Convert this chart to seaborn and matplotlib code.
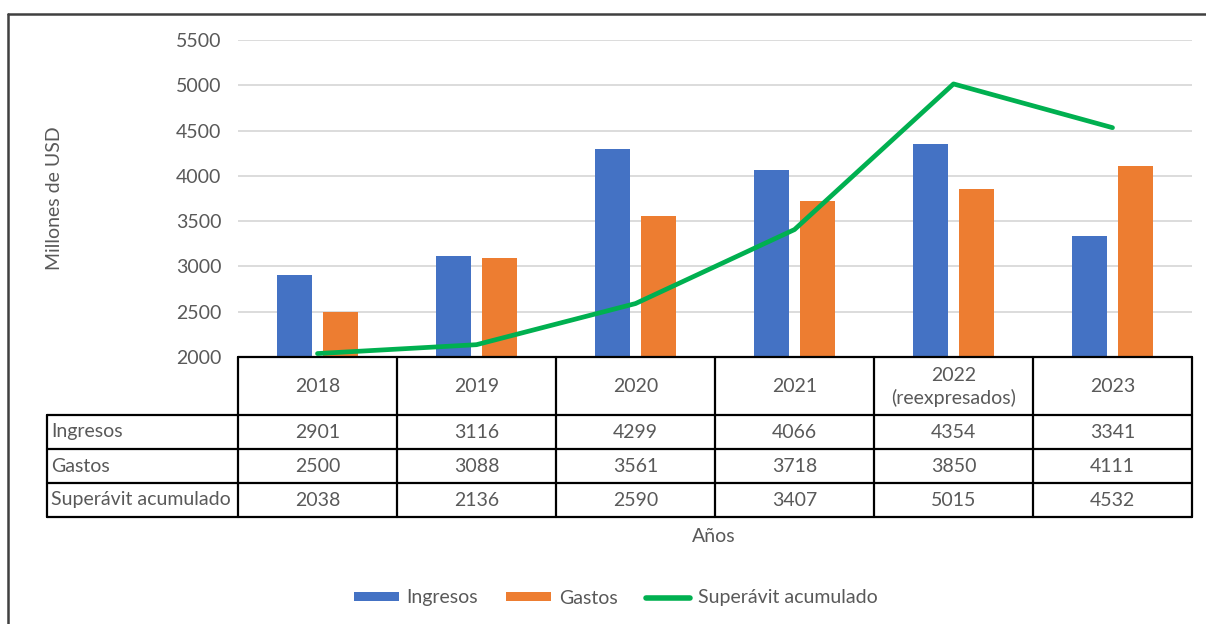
import numpy as np
import pandas as pd
import matplotlib
matplotlib.use('Agg')
import matplotlib.pyplot as plt
import seaborn as sns
from matplotlib import transforms
from matplotlib.lines import Line2D
from matplotlib.patches import Patch

# datos
anios = ['2018', '2019', '2020', '2021', '2022\n(reexpresados)', '2023']
ingresos = [2901, 3116, 4299, 4066, 4354, 3341]
gastos = [2500, 3088, 3561, 3718, 3850, 4111]
superavit = [2038, 2136, 2590, 3407, 5015, 4532]
filas = ['Ingresos', 'Gastos', 'Superávit acumulado']
yticks = [2000, 2500, 3000, 3500, 4000, 4500, 5000, 5500]

AZUL = '#4472C4'
NARANJA = '#ED7D31'
VERDE = '#00B050'
GRIS = '#595959'

sns.set_theme(style='white')
plt.rcParams['font.family'] = ['Lato', 'DejaVu Sans']
FS = 14

W, H = 1206, 624
fig = plt.figure(figsize=(W / 100, H / 100), dpi=100)
ax = fig.add_axes([238 / W, 1 - 357 / H, (1192 - 238) / W, (357 - 40) / H])

df = pd.DataFrame({
    'Año': anios * 2,
    'Valor': ingresos + gastos,
    'Serie': ['Ingresos'] * len(anios) + ['Gastos'] * len(anios),
})
sns.barplot(data=df, x='Año', y='Valor', hue='Serie', palette=[AZUL, NARANJA],
            width=0.58, gap=0.24, saturation=1, linewidth=0, legend=False, ax=ax)
sns.lineplot(x=anios, y=superavit, sort=False, color=VERDE, linewidth=3.4,
             solid_capstyle='round', ax=ax)

ax.set_xlim(-0.5, len(anios) - 0.5)
ax.set_ylim(2000, 5500)
ax.set_yticks(yticks)
ax.set_xticks([])
ax.set_xlabel('')
ax.set_ylabel('')
ax.tick_params(axis='y', length=0, pad=12, labelsize=FS, labelcolor=GRIS)
ax.yaxis.grid(True, color='#D9D9D9', linewidth=1.3)
ax.set_axisbelow(True)
for s in ax.spines.values():
    s.set_visible(False)

# tabla de datos bajo el grafico
trans = transforms.blended_transform_factory(ax.transData, fig.transFigure)
fy = lambda y: 1 - y / H
x_izq = -0.5 - (238 - 47) / 159
y_rows = [415, 449, 483, 517]
kw = dict(color='black', lw=1.6, transform=trans, clip_on=False)

fig.add_artist(Line2D([-0.5, len(anios) - 0.5], [fy(357)] * 2, **kw))
for y in y_rows:
    fig.add_artist(Line2D([x_izq, len(anios) - 0.5], [fy(y)] * 2, **kw))
for i in range(len(anios) + 1):
    fig.add_artist(Line2D([i - 0.5] * 2, [fy(357), fy(517)], **kw))
fig.add_artist(Line2D([x_izq] * 2, [fy(415), fy(517)], **kw))

for i, a in enumerate(anios):
    fig.text(i, fy(387), a, transform=trans, ha='center', va='center',
             fontsize=FS, color=GRIS, linespacing=1.35)

for j, (nombre, serie) in enumerate(zip(filas, [ingresos, gastos, superavit])):
    yc = fy((y_rows[j] + y_rows[j + 1]) / 2)
    fig.text(51 / W, yc, nombre, ha='left', va='center', fontsize=FS, color=GRIS)
    for i, v in enumerate(serie):
        fig.text(i, yc, str(v), transform=trans, ha='center', va='center',
                 fontsize=FS, color=GRIS)

fig.text(54 / W, fy(198), 'Millones de USD', rotation=90, ha='center', va='center',
         fontsize=FS, color=GRIS)
fig.text(714 / W, fy(536), 'Años', ha='center', va='center', fontsize=FS, color=GRIS)

# leyenda
handles = [Patch(facecolor=AZUL, edgecolor='none'),
           Patch(facecolor=NARANJA, edgecolor='none'),
           Line2D([0], [0], color=VERDE, lw=4, solid_capstyle='round')]
leg = fig.legend(handles, ['Ingresos', 'Gastos', 'Superávit acumulado'],
                 loc='center', bbox_to_anchor=(616 / W, fy(598)), ncol=3,
                 frameon=False, fontsize=FS, handlelength=2.3, handleheight=0.35,
                 handletextpad=0.4, columnspacing=1.45)
for t in leg.get_texts():
    t.set_color(GRIS)

# marco de la figura
fig.add_artist(Line2D([7.5 / W, 1], [fy(13.5)] * 2, color='#404040', lw=1.8,
                      transform=fig.transFigure))
fig.add_artist(Line2D([7.5 / W] * 2, [0, fy(13.5)], color='#404040', lw=1.8,
                      transform=fig.transFigure))

fig.savefig('out.png', dpi=100)
